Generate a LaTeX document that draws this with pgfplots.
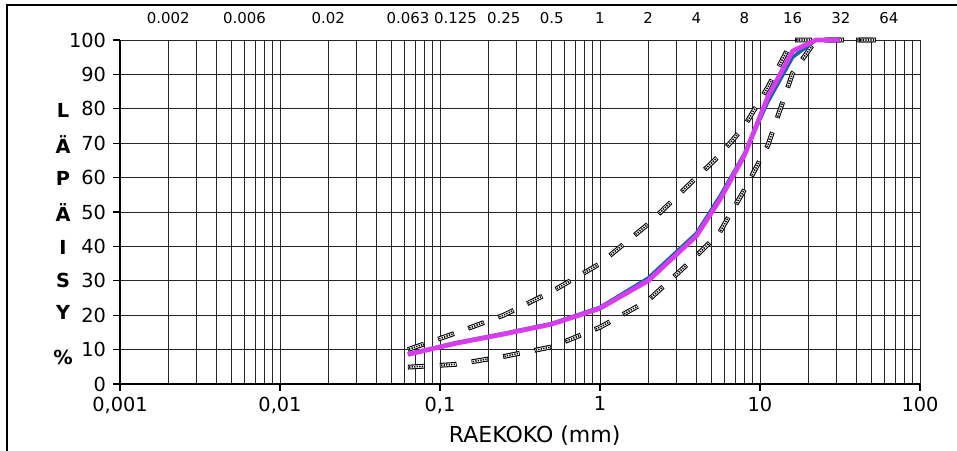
\documentclass[border=0pt]{standalone}
\usepackage{fontspec}
\setmainfont{DejaVu Sans}
\usepackage{pgfplots}
\pgfplotsset{compat=1.18}
\definecolor{cblue}{RGB}{20,100,170}
\definecolor{cmag}{RGB}{215,60,240}
\tikzset{
  limA/.style={black,line width=3.6pt,dash pattern=on 12.6pt off 11.4pt,line cap=butt},
  limB/.style={white,line width=2.0pt,dash pattern=on 0pt off 0.6pt on 11.4pt off 12pt,line cap=butt},
  limC/.style={black,line width=1.2pt,dash pattern=on 0pt off 0.9pt on 1pt off 0.9pt on 1pt off 0.9pt on 1pt off 0.9pt on 1pt off 0.9pt on 1pt off 0.9pt on 1pt off 12.6pt,line cap=butt},
}
\pgfplotstableread{
x y
0.063 4.9
0.125 5.7
0.25 8
0.5 10.8
1 16.5
2 24.3
4 37.2
5.6 44.1
8 56.5
11.2 69.4
16 90.4
22.4 100
31.5 100
45 100
63 100
}\lowerlim
\pgfplotstableread{
x y
0.063 10
0.125 14.8
0.25 20
0.5 26.9
1 35
2 46.5
4 60
5.6 66.5
8 75
11.2 86.3
16 100
31.5 100
63 100
}\upperlim
\begin{document}
\begin{tikzpicture}
\useasboundingbox (0,0) rectangle (717.75pt,-337.5pt);
\draw[line width=1.6pt] (5.25pt,-400pt) -- (5.25pt,-3.75pt) -- (760pt,-3.75pt);
\begin{axis}[
  at={(90pt,-288pt)}, anchor=south west,
  scale only axis, width=600pt, height=258pt,
  xmode=log, xmin=0.001, xmax=100, ymin=0, ymax=100,
  xtick={0.001,0.01,0.1,1,10,100},
  xticklabels={0\rlap{,}\phantom{,}001,0\rlap{,}\phantom{,}01,0\rlap{,}\phantom{,}1,1,10,100},
  ytick={0,10,...,100},
  /pgf/number format/assume math mode=true,
  tick label style={font=\fontsize{14.5}{17}\selectfont},
  axis x line*=bottom, axis y line*=left,
  axis line style={-,black,line width=1.2pt},
  tick align=outside, major tick length=5pt, minor tick length=0pt,
  tick style={black,line width=0.8pt},
  grid=both,
  major grid style={black!85,line width=0.7pt},
  minor grid style={black!85,line width=0.7pt},
  yticklabel style={xshift=-2pt},
  xticklabel style={yshift=-1pt},
  clip=false,
]
% limits
\addplot[limA] table {\lowerlim};
\addplot[limB] table {\lowerlim};
\addplot[limC] table {\lowerlim};
\addplot[limA] table {\upperlim};
\addplot[limB] table {\upperlim};
\addplot[limC] table {\upperlim};
% curves
\addplot[cblue,line width=2.6pt,line join=round] coordinates {(0.063,8.7) (0.125,12) (0.25,14.7) (0.5,17.6) (1,22.3) (2,30.8) (4,43.8) (5.6,54.5) (8,67) (11.2,82) (16,95) (22.4,100) (31.5,100)};
\addplot[cmag,line width=3.5pt,line join=round] coordinates {(0.063,8.6) (0.125,11.8) (0.25,14.5) (0.5,17.4) (1,22) (2,30) (4,43) (5.6,53.5) (8,66.5) (11.2,83.5) (16,96.8) (22.4,100) (31.5,100)};
% top sieve labels
\pgfplotsinvokeforeach{0.002,0.006,0.02,0.063,0.125,0.25,0.5,1,2,4,8,16,32,64}{
  \node[font=\fontsize{11.2}{13}\selectfont,anchor=center,inner sep=0pt] at (axis cs:#1,100) [yshift=16.5pt] {#1};
}
\end{axis}
% y label stacked
\foreach \t/\y in {L/110,Ä/145,P/178,Ä/213,I/247,S/280,Y/312,\%/357}{
  \node[font=\fontsize{14.5}{17}\selectfont\bfseries,anchor=center] at (47.25pt,-\y*0.75pt) {\t};
}
\node[font=\fontsize{16.5}{19}\selectfont,anchor=center] at (401pt,-327pt) {RAEKOKO (mm)};
\end{tikzpicture}
\end{document}
